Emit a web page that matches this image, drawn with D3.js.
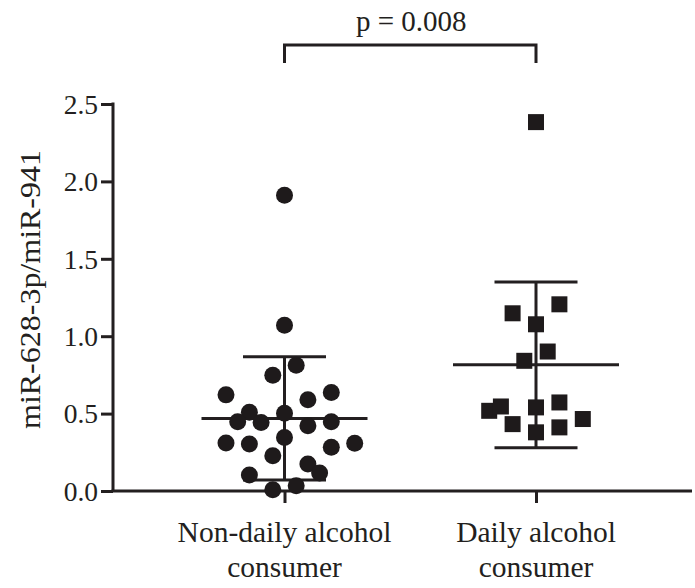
<!DOCTYPE html>
<html>
<head>
<meta charset="utf-8">
<script src="https://cdn.jsdelivr.net/npm/d3@7"></script>
<style>
  html, body { margin: 0; padding: 0; background: #fff; }
  svg { display: block; }
  text { font-family: "Liberation Serif", "Times New Roman", serif; fill: #231f20; }
</style>
</head>
<body>
<div id="chart"></div>
<script>
// ---- data ----
const categories = ["Non-daily alcohol consumer", "Daily alcohol consumer"];
const categoryLines = [["Non-daily alcohol", "consumer"], ["Daily alcohol", "consumer"]];
const yTicks = [0.0, 0.5, 1.0, 1.5, 2.0, 2.5];
const yLabel = "miR-628-3p/miR-941";
const pLabel = "p = 0.008";

// Non-daily group: values and jitter columns
const nonDailyValues = [0.813, 0.748, 0.621, 0.589, 0.637, 0.508, 0.503, 0.447, 0.443, 0.421, 0.447, 0.310,
                        0.303, 0.346, 0.282, 0.308, 0.228, 0.174, 0.116, 0.103, 0.008, 0.034, 1.910, 1.071];
const nonDailyCols   = [1, -1, -5, 2, 4, -3, 0, -4, -2, 2, 4, -5,
                        -3, 0, 4, 6, -1, 2, 3, -3, -1, 1, 0, 0];
// Daily group
const dailyValues = [2.383, 1.148, 1.206, 1.077, 0.901, 0.841, 0.518, 0.546, 0.540, 0.572, 0.432, 0.411, 0.465, 0.379];
const dailyCols   = [0, -2, 2, 0, 1, -1, -4, -3, 0, 2, -2, 2, 4, 0];

const means = [0.469, 0.815];
const sds   = [0.398, 0.535];

// ---- layout ----
const W = 695, H = 588;
const margin = { left: 113, right: 5, top: 104, bottom: 97 };
const ink = "#231f20";

const svg = d3.select("#chart").append("svg").attr("width", W).attr("height", H);

const x = d3.scalePoint().domain(categories).range([284.5, 536]);
const y = d3.scaleLinear().domain([0, 2.5]).range([H - margin.bottom, margin.top]);
const jitter = d3.scaleLinear().domain([0, 1]).range([0, 11.7]);

// axes
const yAxis = d3.axisLeft(y).tickValues(yTicks).tickFormat(d3.format(".1f")).tickSize(12).tickPadding(3);
const gy = svg.append("g").attr("transform", `translate(${margin.left},0)`).call(yAxis);
gy.select(".domain").attr("stroke", ink).attr("stroke-width", 3).attr("d", `M0,${y(2.5) - 1.5}V${y(0)}`);
gy.selectAll(".tick line").attr("stroke", ink).attr("stroke-width", 3);
gy.selectAll(".tick text").attr("font-size", 27.5).attr("font-family", "Liberation Serif").attr("fill", ink).attr("dy", "0.34em");

const xAxis = d3.axisBottom(x).tickSize(12).tickFormat("");
const gx = svg.append("g").attr("transform", `translate(0,${y(0)})`).call(xAxis);
gx.select(".domain").attr("stroke", ink).attr("stroke-width", 3).attr("d", `M${margin.left - 1.5},0H${W - 3}`);
gx.selectAll(".tick line").attr("stroke", ink).attr("stroke-width", 3);

// x labels (two lines)
categories.forEach((c, i) => {
  const t = svg.append("text").attr("x", x(c)).attr("text-anchor", "middle").attr("font-size", 29.5);
  categoryLines[i].forEach((ln, j) => {
    t.append("tspan").attr("x", x(c)).attr("y", 542 + j * 35).text(ln);
  });
});

// y label
svg.append("text")
  .attr("transform", `translate(40,${(150 + 429) / 2}) rotate(-90)`)
  .attr("text-anchor", "middle")
  .attr("font-size", 29)
  .attr("textLength", 279)
  .attr("lengthAdjust", "spacingAndGlyphs")
  .text(yLabel);

// error bars (mean ± SD)
const meanHalf = 83, capHalf = 41.5;
categories.forEach((c, i) => {
  const cx = x(c);
  const g = svg.append("g").attr("stroke", ink).attr("stroke-width", 3);
  g.append("line").attr("x1", cx).attr("x2", cx).attr("y1", y(means[i] + sds[i])).attr("y2", y(means[i] - sds[i]));
  g.append("line").attr("x1", cx - meanHalf).attr("x2", cx + meanHalf).attr("y1", y(means[i])).attr("y2", y(means[i]));
  g.append("line").attr("x1", cx - capHalf).attr("x2", cx + capHalf).attr("y1", y(means[i] + sds[i])).attr("y2", y(means[i] + sds[i]));
  g.append("line").attr("x1", cx - capHalf).attr("x2", cx + capHalf).attr("y1", y(means[i] - sds[i])).attr("y2", y(means[i] - sds[i]));
});

// points
const g1 = nonDailyValues.map((v, i) => ({ v, c: nonDailyCols[i] }));
svg.append("g").selectAll("circle").data(g1).join("circle")
  .attr("cx", d => x(categories[0]) + jitter(d.c))
  .attr("cy", d => y(d.v))
  .attr("r", 8.5)
  .attr("fill", "#1e1a1b");

const g2 = dailyValues.map((v, i) => ({ v, c: dailyCols[i] }));
const sq = 16;
svg.append("g").selectAll("rect").data(g2).join("rect")
  .attr("x", d => x(categories[1]) + jitter(d.c) - sq / 2)
  .attr("y", d => y(d.v) - sq / 2)
  .attr("width", sq).attr("height", sq)
  .attr("fill", "#1e1a1b");

// significance bracket
const by = 45, bDrop = 18;
svg.append("path")
  .attr("d", `M${x(categories[0])},${by + bDrop}V${by}H${x(categories[1])}V${by + bDrop}`)
  .attr("fill", "none").attr("stroke", ink).attr("stroke-width", 3);
svg.append("text")
  .attr("x", (x(categories[0]) + x(categories[1])) / 2 + 1)
  .attr("y", 31)
  .attr("text-anchor", "middle")
  .attr("font-size", 29)
  .text(pLabel);
</script>
</body>
</html>
